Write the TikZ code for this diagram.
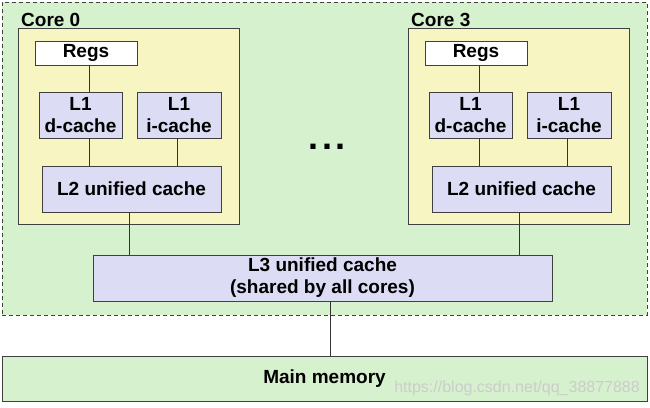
\documentclass[tikz,border=0pt]{standalone}
\usepackage{fontspec}
\setmainfont{Liberation Sans}
\definecolor{chipgreen}{HTML}{D6F1CD}
\definecolor{coreyellow}{HTML}{F7F5C2}
\definecolor{cachelav}{HTML}{DCDCF4}

\begin{document}
\begin{tikzpicture}[x=1pt, y=-1pt,
    lbl/.style={font=\fontsize{19}{22}\selectfont\bfseries},
    box/.style={lbl, draw=black!75, line width=0.9pt, inner sep=0pt, align=center},
    cache/.style={box, fill=cachelav},
    wire/.style={draw=black!80, line width=0.8pt}]
  \useasboundingbox (0,0) rectangle (650,407);
  % chip and cores
  \node[box, fill=chipgreen, dash pattern=on 4pt off 3pt,
        minimum width=645pt, minimum height=313pt] (Chip) at (324.5,158.5) {};
  \node[box, fill=coreyellow, minimum width=221pt, minimum height=196pt] (Core0) at (128.5,126) {};
  \node[box, fill=coreyellow, minimum width=221pt, minimum height=196pt] (Core3) at (518.5,126) {};
  \node[lbl, anchor=base west, inner sep=0pt] (Core0lab) at (21,26) {Core 0};
  \node[lbl, anchor=base west, inner sep=0pt] (Core3lab) at (411,26) {Core 3};
  % core 0
  \node[box, fill=white, minimum width=102pt, minimum height=24pt] (Regs0) at (86,53) {Regs};
  \node[cache, minimum width=83pt, minimum height=46pt] (L1d0) at (80.5,115) {L1\\d-cache};
  \node[cache, minimum width=84pt, minimum height=46pt] (L1i0) at (179,115) {L1\\i-cache};
  \node[cache, minimum width=179pt, minimum height=46pt] (L2c0) at (131.5,189) {L2 unified cache};
  % core 3
  \node[box, fill=white, minimum width=102pt, minimum height=24pt] (Regs3) at (476,53) {Regs};
  \node[cache, minimum width=83pt, minimum height=46pt] (L1d3) at (470.5,115) {L1\\d-cache};
  \node[cache, minimum width=84pt, minimum height=46pt] (L1i3) at (569,115) {L1\\i-cache};
  \node[cache, minimum width=179pt, minimum height=46pt] (L2c3) at (521.5,189) {L2 unified cache};
  \node[anchor=base, inner sep=0pt, font=\fontsize{36}{36}\selectfont\bfseries] (Dots) at (327,149)
    {.\hspace{3.5pt}.\hspace{3.5pt}.};
  % shared levels
  \node[cache, minimum width=459pt, minimum height=46pt] (L3) at (322.5,278)
    {L3 unified cache\\(shared by all cores)};
  \node[box, fill=chipgreen, minimum width=645pt, minimum height=45pt] (Mem) at (324.5,378.5) {Main memory};
  \node[anchor=base east, inner sep=0pt, text=black!20, font=\fontsize{16}{18}\selectfont] (Mark) at (640,392)
    {https://blog.csdn.net/qq\_38877888};
  % connections
  \draw[wire] ([xshift=3pt]Regs0.south) -- ([xshift=8.5pt]L1d0.north);
  \draw[wire] ([xshift=8.5pt]L1d0.south) -- ([xshift=-42.5pt]L2c0.north);
  \draw[wire] ([xshift=-2pt]L1i0.south) -- ([xshift=45.5pt]L2c0.north);
  \draw[wire] ([xshift=3pt]Regs3.south) -- ([xshift=8.5pt]L1d3.north);
  \draw[wire] ([xshift=8.5pt]L1d3.south) -- ([xshift=-42.5pt]L2c3.north);
  \draw[wire] ([xshift=-2pt]L1i3.south) -- ([xshift=45.5pt]L2c3.north);
  \draw[wire] ([xshift=-2.5pt]L2c0.south) -- ([xshift=-193.5pt]L3.north);
  \draw[wire] ([xshift=-2.5pt]L2c3.south) -- ([xshift=196.5pt]L3.north);
  \draw[wire] ([xshift=7.5pt]L3.south) -- ([xshift=5.5pt]Mem.north);
\end{tikzpicture}
\end{document}
